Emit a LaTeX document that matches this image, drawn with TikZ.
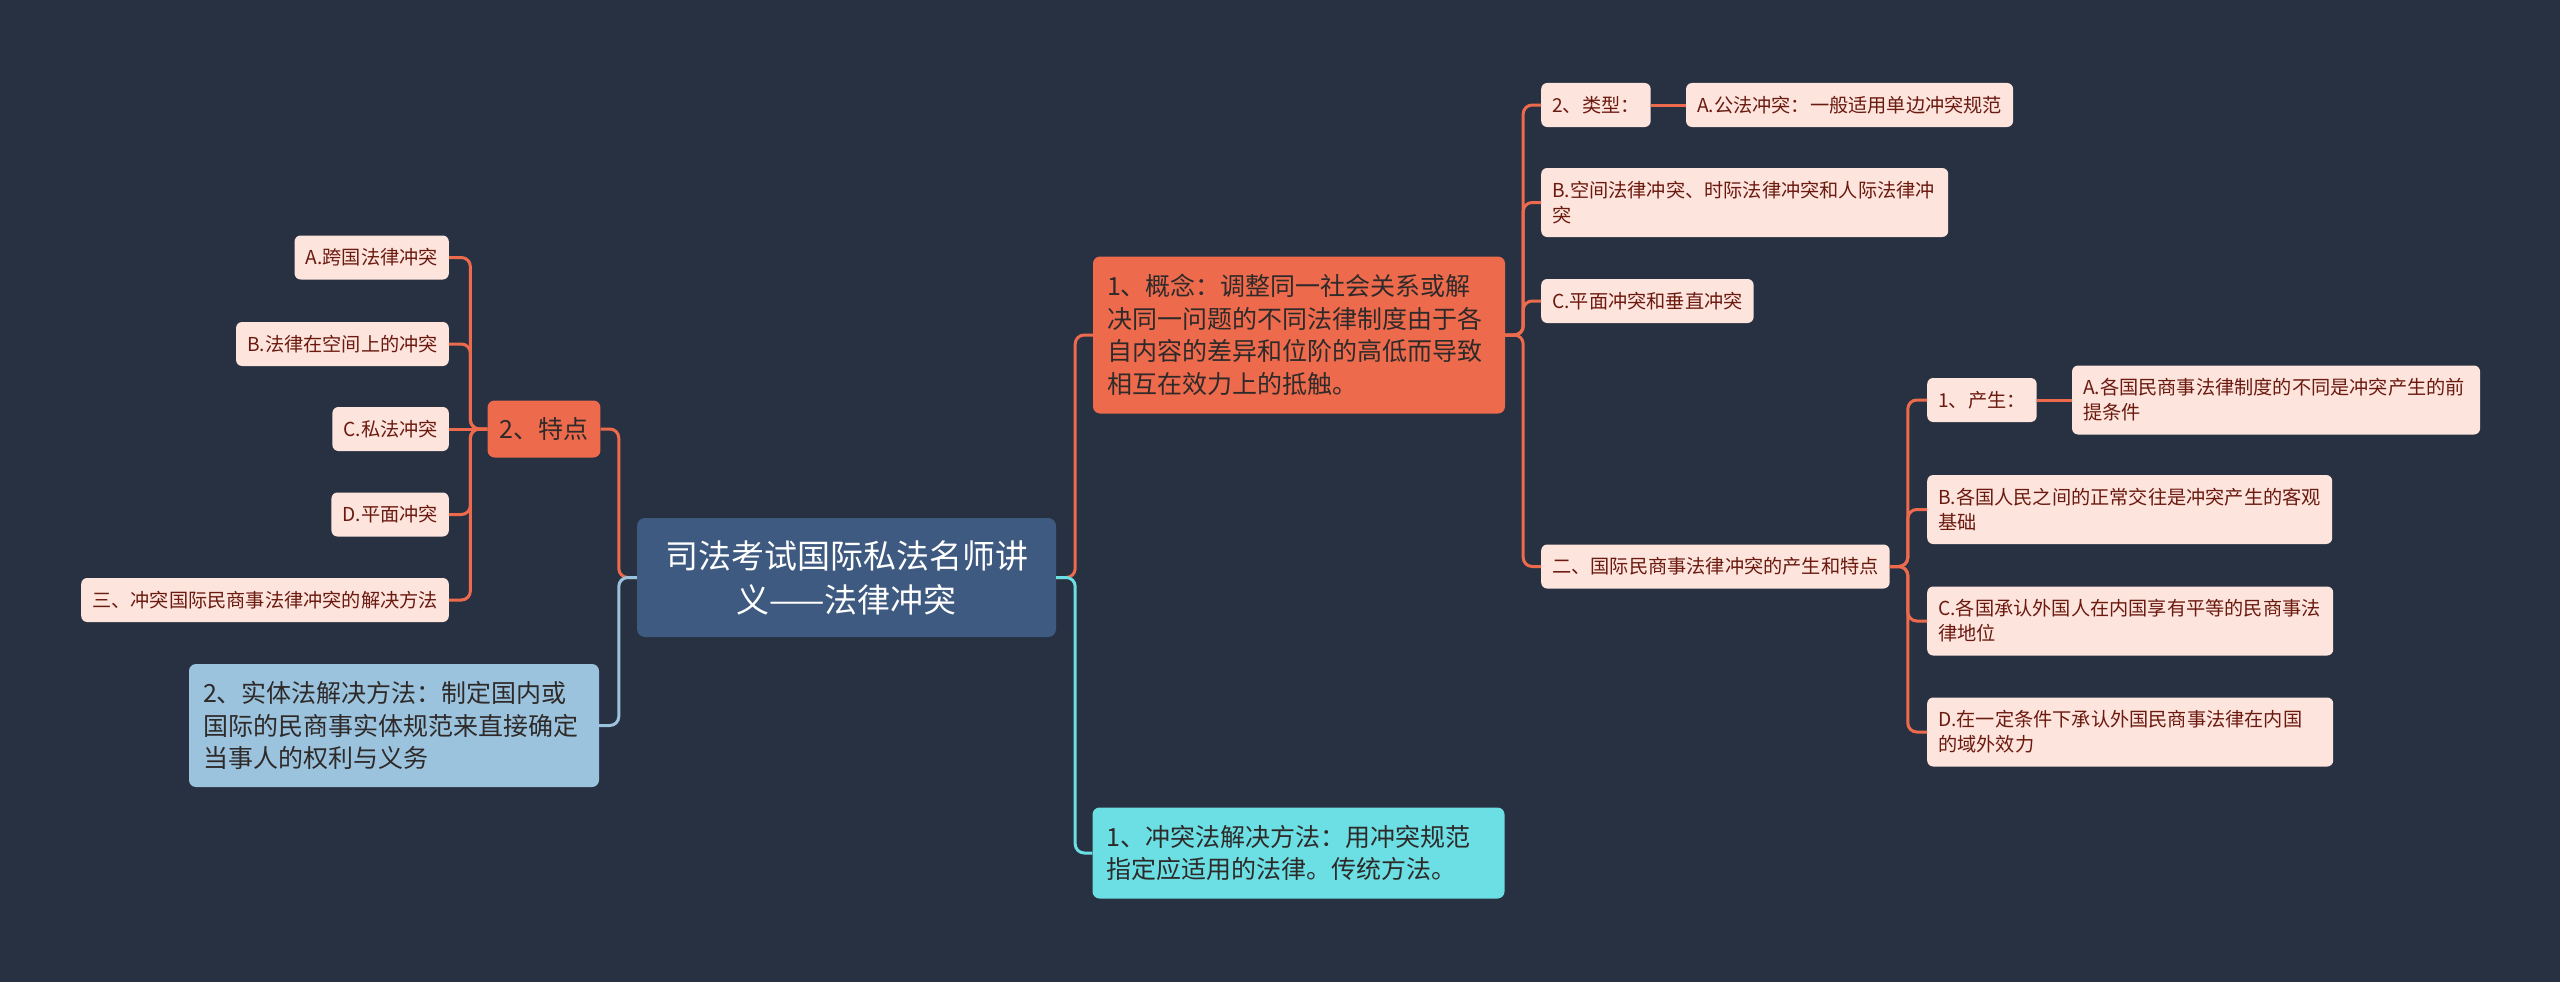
\documentclass[tikz,border=0pt]{standalone}
\usepackage{fontspec}
\setmainfont{Noto Sans CJK SC}
\usetikzlibrary{positioning,calc}
\usepackage{xcolor}
\definecolor{bgnavy}{HTML}{283142}
\definecolor{rootblue}{HTML}{3E5A80}
\definecolor{coral}{HTML}{EE6A4C}
\definecolor{leaffill}{HTML}{FDE4DC}
\definecolor{leaftext}{HTML}{6B1A10}
\definecolor{skyblue}{HTML}{9CC3DD}
\definecolor{aqua}{HTML}{6BDFE3}
\definecolor{inktext}{HTML}{2E2A2A}

\begin{document}
\begin{tikzpicture}[x=1pt, y=-1pt,
      topic/.style={fill=rootblue, text=white, rounded corners=8pt, align=center,
                    font=\fontsize{33}{44}\selectfont, minimum width=419pt, minimum height=119pt},
      branch/.style={rounded corners=7pt, align=left, inner xsep=14pt, inner ysep=0pt,
                     text=inktext, font=\fontsize{25}{32.5}\selectfont},
      leaf/.style={fill=leaffill, text=leaftext, rounded corners=6pt, align=left,
                   inner xsep=11pt, inner ysep=0pt, minimum height=44pt,
                   font=\fontsize{19.2}{25}\selectfont},
      link/.style={line width=3pt, rounded corners=9pt},
    ]
    \fill[bgnavy] (0,0) rectangle (2560,982);
    \useasboundingbox (0,0) rectangle (2560,982);

    % ---------- centre ----------
    \node[topic] (root) at (846.5,577.5) {司法考试国际私法名师讲\\义——法律冲突};

    % ---------- left side ----------
    \node[branch, fill=coral, inner xsep=12pt, minimum height=57pt] (feat) at (544,429) {2、特点};
    \node[leaf, anchor=east] (fA) at (449,257.5) {A.跨国法律冲突};
    \node[leaf, anchor=east] (fB) at (449,344) {B.法律在空间上的冲突};
    \node[leaf, anchor=east] (fC) at (449,429) {C.私法冲突};
    \node[leaf, anchor=east] (fD) at (449,514.5) {D.平面冲突};
    \node[leaf, anchor=east, inner xsep=11pt] (fE) at (449,600) {三、冲突国际民商事法律冲突的解决方法};
    \node[branch, fill=skyblue, text width=382pt, minimum height=123pt] (subst) at (394,725.5)
      {2、实体法解决方法：制定国内或\\国际的民商事实体规范来直接确定\\当事人的权利与义务};

    \draw[link, coral] (root.west) -- ++(-18,0) |- (feat.east);
    \draw[link, skyblue] (root.west) -- ++(-18,0) |- (subst.east);
    \foreach \n in {fA,fB,fD,fE}
      \draw[link, coral] (feat.west) -- ++(-17,0) |- (\n.east);
    \draw[link, coral] (feat.west) -- (fC.east);

    % ---------- right side ----------
    \node[branch, fill=coral, text width=384pt, minimum height=157pt] (concept) at (1299,335)
      {1、概念：调整同一社会关系或解\\决同一问题的不同法律制度由于各\\自内容的差异和位阶的高低而导致\\相互在效力上的抵触。};
    \node[branch, fill=aqua, text width=384pt, minimum height=91pt] (conflict) at (1298.5,853)
      {1、冲突法解决方法：用冲突规范\\指定应适用的法律。传统方法。};

    \draw[link, coral] (root.east) -- ++(19,0) |- (concept.west);
    \draw[link, aqua] (root.east) -- ++(19,0) |- (conflict.west);

    \node[leaf, anchor=west] (types) at (1541,105) {2、类型：};
    \node[leaf, right=35pt of types] (pubA) {A.公法冲突：一般适用单边冲突规范};
    \node[leaf, anchor=west, text width=385pt, minimum height=69pt] (spB) at (1541,202.5)
      {B.空间法律冲突、时际法律冲突和人际法律冲\\突};
    \node[leaf, anchor=west] (flatC) at (1541,301) {C.平面冲突和垂直冲突};
    \node[leaf, anchor=west] (origin) at (1541,566.5) {二、国际民商事法律冲突的产生和特点};

    \foreach \n in {types,spB,flatC,origin}
      \draw[link, coral] (concept.east) -- ++(18,0) |- (\n.west);
    \draw[link, coral] (types) -- (pubA);

    % ---------- origin and features ----------
    \node[leaf, anchor=west] (gen) at (1927,400) {1、产生：};
    \node[leaf, right=35pt of gen, text width=386pt, minimum height=69pt] (genA)
      {A.各国民商事法律制度的不同是冲突产生的前\\提条件};
    \node[leaf, anchor=west, text width=383pt, minimum height=69pt] (baseB) at (1927,509.5)
      {B.各国人民之间的正常交往是冲突产生的客观\\基础};
    \node[leaf, anchor=west, text width=384pt, minimum height=69pt] (statC) at (1927,621)
      {C.各国承认外国人在内国享有平等的民商事法\\律地位};
    \node[leaf, anchor=west, text width=384pt, minimum height=69pt] (effD) at (1927,732)
      {D.在一定条件下承认外国民商事法律在内国\\的域外效力};

    \foreach \n in {gen,baseB,statC,effD}
      \draw[link, coral] (origin.east) -- ++(18,0) |- (\n.west);
    \draw[link, coral] (gen) -- (genA);
  \end{tikzpicture}
\end{document}
